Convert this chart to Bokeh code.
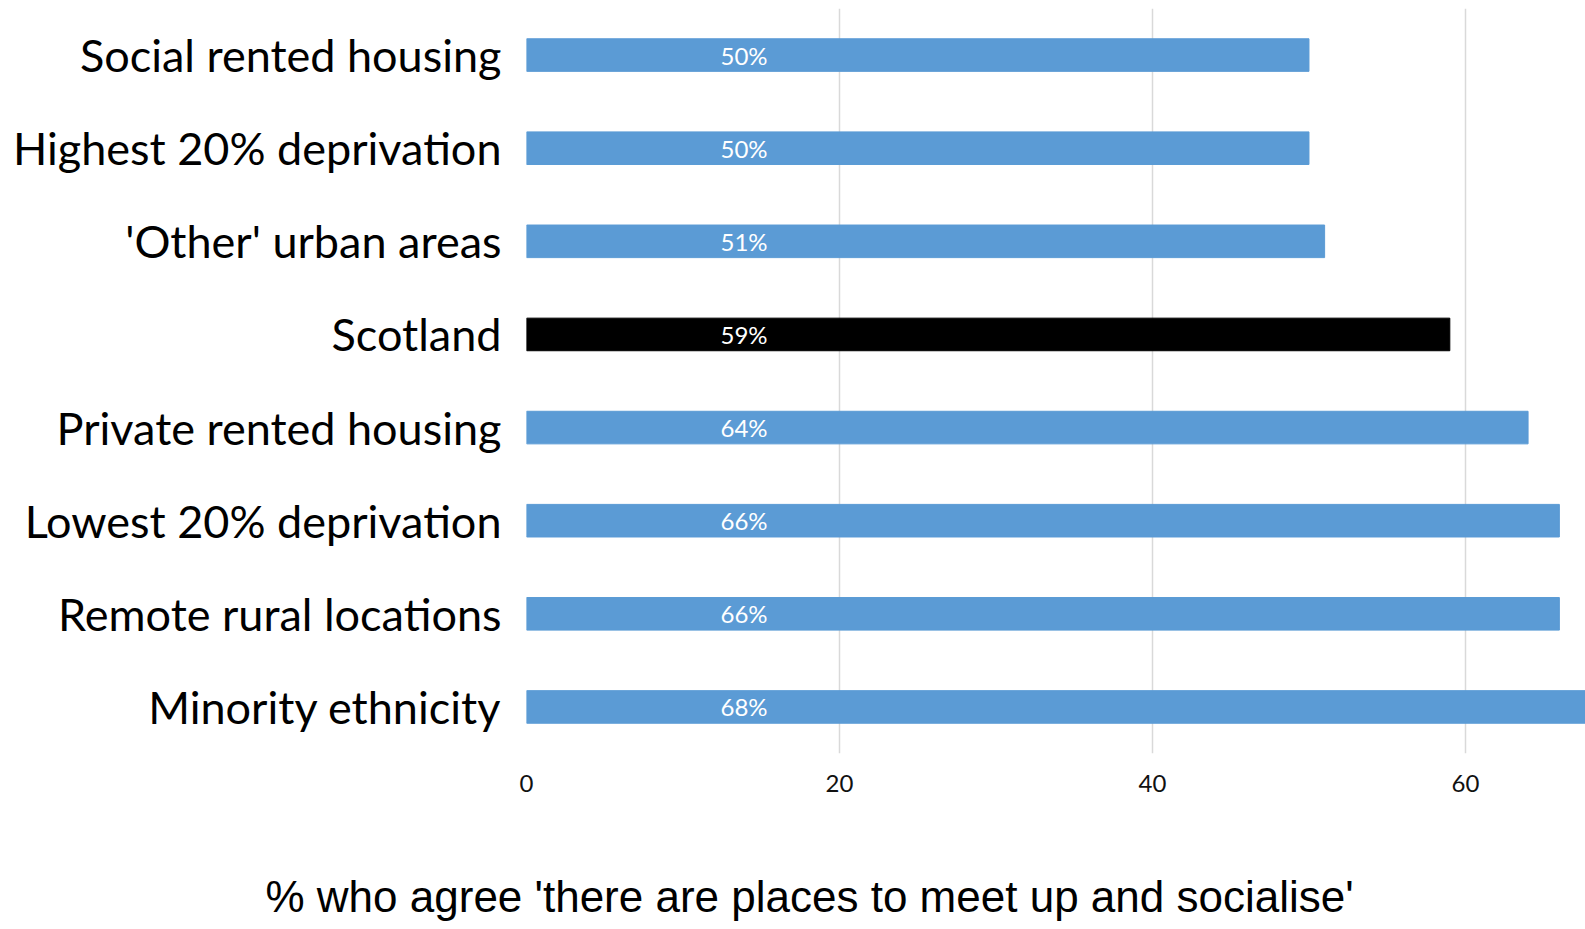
from bokeh.plotting import figure
from bokeh.models import ColumnDataSource, FactorRange, Range1d, FixedTicker, Title
from bokeh.embed import file_html
from bokeh.resources import INLINE

categories = ["Social rented housing", "Highest 20% deprivation", "'Other' urban areas",
              "Scotland", "Private rented housing", "Lowest 20% deprivation",
              "Remote rural locations", "Minority ethnicity"]
values = [50, 50, 51, 59, 64, 66, 66, 68]
colors = ["#5B9BD5", "#5B9BD5", "#5B9BD5", "#000000", "#5B9BD5", "#5B9BD5", "#5B9BD5", "#5B9BD5"]
x_ticks = [0, 20, 40, 60]
x_title = "% who agree 'there are places to meet up and socialise'"
label_x = 13.9

src = ColumnDataSource(dict(cat=categories, val=values, color=colors,
                            lab=[f"{v}%" for v in values],
                            lx=[label_x] * len(values)))

p = figure(width=1585, height=929, output_backend="svg", toolbar_location=None,
           y_range=FactorRange(*list(reversed(categories))),
           x_range=Range1d(0, 67.67),
           min_border_left=526, min_border_right=0, min_border_top=8, min_border_bottom=176)
p.outline_line_color = None
p.background_fill_color = "white"
p.border_fill_color = "white"

p.hbar(y="cat", right="val", left=0, height=0.35, color="color", source=src)
p.text(x="lx", y="cat", text="lab", source=src, text_color="white",
       text_font_size="24px", text_align="center", text_baseline="middle",
       text_font={"value": "Lato"})

p.xaxis.ticker = FixedTicker(ticks=x_ticks)
p.xaxis.axis_line_color = None
p.xaxis.major_tick_line_color = None
p.xaxis.minor_tick_line_color = None
p.xaxis.major_label_text_font = "Lato"
p.xaxis.major_label_text_font_size = "24px"
p.xaxis.major_label_text_color = "#111111"
p.xaxis.major_label_standoff = 15

spacer = Title(text=" ", align="left", text_font_size="56px")
p.add_layout(spacer, "below")
title = Title(text=x_title, align="left", offset=-261, standoff=0,
              text_font="Liberation Sans", text_font_size="44px", text_color="black",
              text_font_style="normal")
p.add_layout(title, "below")

p.yaxis.axis_line_color = None
p.yaxis.major_tick_line_color = None
p.yaxis.minor_tick_line_color = None
p.yaxis.major_label_text_font = "Lato"
p.yaxis.major_label_text_font_size = "45px"
p.yaxis.major_label_text_color = "black"
p.yaxis.major_label_standoff = 19

p.xgrid.grid_line_color = "#D9D9D9"
p.xgrid.grid_line_width = 1.5
p.ygrid.grid_line_color = None

open("out.html", "w").write(file_html(p, INLINE))
